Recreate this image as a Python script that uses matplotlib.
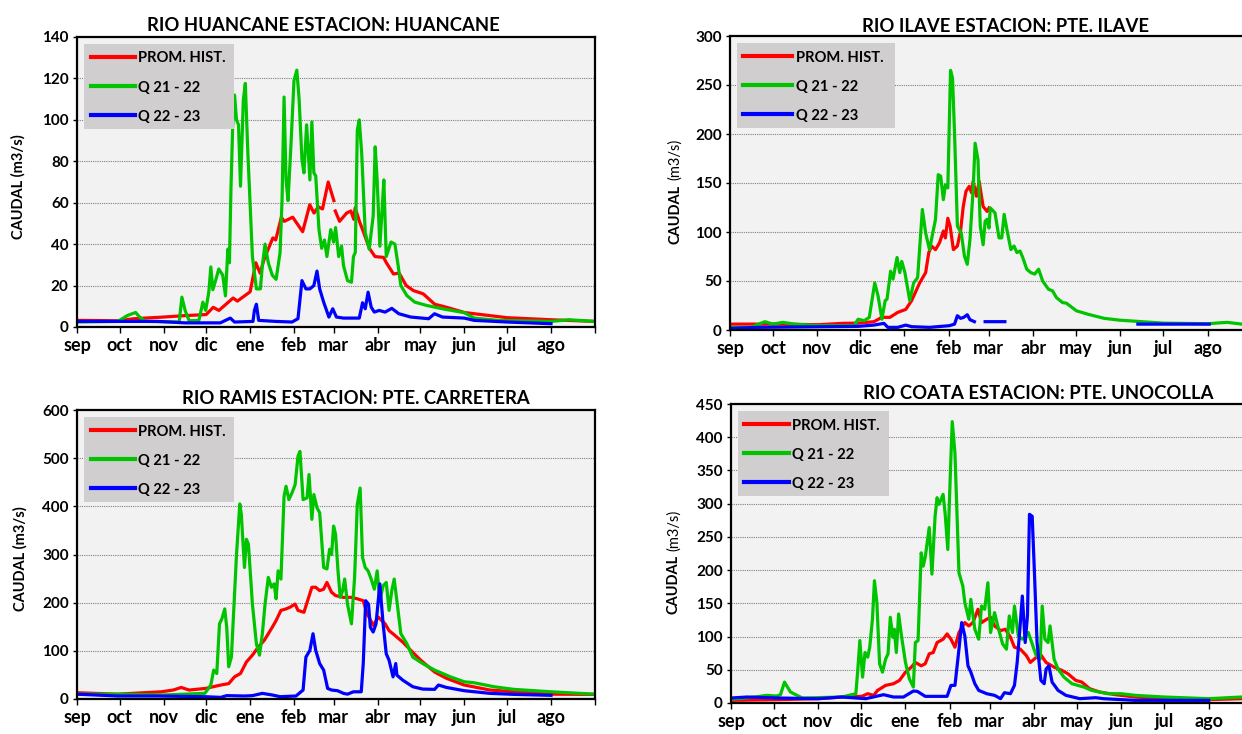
import numpy as np
import matplotlib
matplotlib.use("Agg")
import matplotlib.pyplot as plt
from matplotlib.lines import Line2D
from matplotlib.patches import Rectangle

nan = np.nan

# ---------------- data (day 0 = 1 sep) ----------------
months = ['sep', 'oct', 'nov', 'dic', 'ene', 'feb', 'mar', 'abr', 'may', 'jun', 'jul', 'ago']
month_len = [30, 31, 30, 31, 31, 28, 31, 30, 31, 30, 31, 31]
series_names = ['PROM. HIST.', 'Q 21 - 22', 'Q 22 - 23']

# RIO HUANCANE
hu_prom = [(0,3.2),(29,3),(40,4),(61,4.8),(76,5.5),(91,6),(96,9.5),(100,8),(110,14),(113,12.5),(122,17),(126,31),(129,26),(132,33),(138,43),(140,42),(144,53),(146,51),(152,53),(159,46),(164,59),(167,55),(170,58),(173,57),(177,70),(181,61),(181.5,nan),(182,56),(185,51),(190,55),(193,56),(195,52),(196,57.5),(199,51),(202,45.6),(206,38),(210,34),(216,33.6),(218,31),(223,25.6),(227,26),(232,20),(237,17.6),(244,16),(252,11),(260,9.6),(273,7),(280,6.4),(303,4.5),(334,3.5),(365,2.7)]
hu_q21 = [(0,2.4),(28.7,2.7),(35.7,5.6),(41.3,7),(44.1,4.8),(48.3,2.7),(72.0,2.4),(73.9,14.4),(76.2,8),(79.0,3),(85.9,3.2),(88.7,12),(90.7,8),(92.9,17),(94.3,29),(95.7,18),(97.9,23),(99.9,28),(102.7,25),(104.6,15),(106.3,37.6),(107.4,31),(108.5,67),(109.7,97),(111.0,112),(112.4,100),(113.8,97.6),(115.2,68),(117.2,109.6),(118.6,117.6),(120.3,85.6),(123.6,34),(126.4,18.4),(129.2,18.4),(130.6,29.6),(132.5,40),(134.8,31),(137.6,25),(140.3,23),(143.1,36),(144.5,61.6),(145.9,111),(147.3,71),(148.7,61),(150.7,87),(152.9,119),(154.9,124),(156.5,110),(158.5,81),(159.9,74.4),(161.8,97.6),(164.1,71),(165.5,99),(166.9,74.4),(168.2,73),(170.5,47),(172.4,38),(174.4,42),(176.1,34),(178.8,47),(180.8,41),(182.2,48),(184.4,34),(186.4,39),(187.8,29.6),(190.6,22.4),(193.4,21.6),(194.8,34),(196.1,36),(197.5,95),(198.9,100),(200.6,84),(203.1,45.6),(205.9,37.6),(208.7,53.6),(210.1,87),(211.5,71),(213.4,39),(215.1,58),(216.2,71),(217.9,34),(221.3,41),(224.0,40),(226.3,29.6),(228.2,20),(232.4,15.2),(238.0,12),(246.4,10.4),(257.5,8.8),(272.9,6.9),(279.9,4.3),(296.6,3.2),(334.0,2.7),(346.8,3.5),(365.0,2.7)]
hu_q22 = [(0,2.7),(57,2.7),(76,2),(101,2),(108,4.3),(111,2.4),(124,2.7),(125,8),(126.4,11),(128,3.2),(140,2.7),(151.5,2.4),(155.7,4),(158.5,22.4),(161.3,18.4),(164.1,18.4),(166.9,20),(169.1,27),(171,18.4),(173.8,12),(177.5,4.8),(180.2,8.8),(182.8,4.8),(187.8,4.3),(198.9,4.3),(201.2,11.7),(203.1,8.8),(205.1,16.8),(207.3,9.6),(209.5,7.2),(212.9,8),(217.1,7.2),(221.8,9),(226.8,6.4),(235.2,4.8),(247.8,4),(251.9,6.4),(257.5,4.8),(272.9,4.3),(279.9,3.2),(303,2.4),(334,1.6)]

# RIO ILAVE
il_prom = [(0,6),(34,6),(62,5.4),(78.5,6.8),(89.6,7),(100.7,8.5),(106.2,12.9),(111.8,12.9),(117.3,18),(122.9,21),(127,30),(132.6,48),(136.8,58.6),(139,79),(140.9,85.7),(143.7,82),(146.5,89),(149.2,101),(150.6,94),(152.3,114),(153.9,106),(156.2,82),(159,85.7),(161.2,101),(163.1,126),(165,141.5),(167.3,146.6),(168.9,140),(170,151.7),(172.3,136.5),(174.2,151.7),(177,126),(179.8,121),(181.1,124.6)]
il_q21 = [(0,2.7),(14.7,2.7),(20.2,6),(24.4,8.5),(30,6),(36.9,7.8),(45.2,6),(61.9,4.4),(86.8,4.4),(89.6,11),(93.8,9.5),(97.4,12.9),(101.2,48),(103.5,35),(106.2,11),(108.5,30),(109.8,31.5),(112.3,60),(114,52),(116.8,74),(118.7,58.6),(120.1,70),(122.3,58.6),(125.7,30),(128.4,48),(131.2,53.5),(134.5,123),(136.8,99),(139.5,82),(143.7,113),(145.6,158.5),(147.3,157),(149.2,133),(150.6,148),(152.3,145),(154.2,265),(155.6,257),(157,201),(159,106),(161.7,99),(163.9,75.5),(165.9,67),(167.8,92.4),(170,143),(171.4,190.6),(173.4,173.7),(175,106),(177,87),(178.4,111),(179.8,113),(181.1,104),(182,124.6),(185.3,119.5),(188.1,94),(190,94),(191.7,118),(193.6,102.6),(196.4,82),(198.6,85.7),(200.6,79),(202.8,80.6),(204.7,74),(207.5,62),(210.3,58.6),(213,57),(215.8,62),(218.6,50),(222.7,41.6),(225.5,40),(228.3,33),(232.5,28),(235.2,27.4),(242.2,19.6),(250.5,16),(261.6,11.9),(272.7,10),(303.2,7),(334,6.4),(347.6,7.8),(358.1,6),(365,6)]
il_q22 = [(0,1.7),(20.2,2.7),(89.6,3.7),(100.7,5),(107.6,6.8),(110.4,2.7),(117.3,2.7),(122.9,5),(127,3.4),(139.5,2.7),(153.4,4.4),(157,6),(159,14.6),(161.2,11.9),(163.4,12.9),(165.9,15.6),(167.8,10.5),(170.9,8.5),(174.5,nan),(178.4,8.5),(192.2,8.5),(240,nan),(285.2,6),(335.1,6)]

# RIO RAMIS
ra_prom = [(0,13),(28.7,10),(59.4,15),(67.8,18.6),(73.4,24),(79,18.6),(90.7,22),(101.3,29),(106.9,32),(111,46),(115.2,53),(119.4,77),(123.6,91),(127.8,108),(132,122),(137.6,149),(140.3,163),(143.7,184),(147.3,187),(150.1,190.6),(153.7,197),(155.7,184),(159.9,180),(165.5,232),(168.2,232),(171,225),(173.8,228),(176.1,242),(179.4,221.5),(182.2,214.7),(187.8,211),(193.4,211),(197.5,208),(201.7,204),(204.5,177),(208.7,153),(212.3,170),(217.1,156),(219.9,142),(224,132),(229.6,118),(235.2,101),(242.2,80.5),(252,56),(260.3,43),(272.9,29),(291,18.6),(307.8,15),(334,10),(365,9.6)]
ra_q21 = [(0,10),(28.7,10),(60.5,8.3),(90.1,11.7),(94.3,29),(96.3,60),(98.5,53),(100.4,156),(102.1,166.5),(104.1,187),(105.5,149),(106.9,67),(108.8,87),(112.4,300),(114.7,405),(115.8,383),(118,273),(119.4,331.6),(120.8,321),(123.6,197),(126.4,115),(128.6,91),(130.6,135.5),(132.5,197),(134.8,252.5),(137,232),(138.9,239),(140.3,208),(141.7,266),(143.7,249),(145.9,421),(147.3,441.7),(149.3,414),(151.5,428),(153.7,445),(155.7,503.6),(157.1,514),(159.3,414),(162.1,417.6),(163.5,466),(165.5,373),(166.9,424.5),(169.1,397),(171,386.7),(173.8,273),(176.1,270),(178,311),(179.4,300),(180.8,359),(182.2,342),(183.9,266),(185.5,211),(187.2,225),(188.6,249),(190.6,197),(193.4,156),(195.6,252.5),(197.5,404),(199.5,438),(201.2,294),(203.1,273),(205.1,266),(207.3,249),(209.5,228),(211.5,266),(213.4,204),(215.7,235),(217.9,242),(219.9,184),(221.8,225),(223.5,249),(225.4,204),(228.2,135.5),(232.4,115),(236.6,87),(243.6,73.6),(252,60),(263.1,46),(272.9,35.8),(279.9,33.7),(293.8,25.5),(307.8,20),(334,15),(365,10)]
ra_q22 = [(0,10),(28.7,6.2),(56.6,6.2),(90.1,4.8),(101.3,3.4),(105.5,7),(118,6.2),(123.6,7),(130.6,11.7),(137.6,8.3),(143.1,4.8),(154.3,6.2),(159.3,18.6),(161.3,87),(164.1,101),(166.3,135.5),(168.2,101),(171,73.6),(173.8,60),(176.6,22),(179.4,18.6),(183.6,17.2),(187.8,11.7),(190.6,10),(194.8,15),(200.3,15),(201.7,73.6),(203.4,204),(205.4,197),(206.7,149),(208.7,139),(210.7,156),(213.4,239),(215.7,156),(217.9,94),(219.9,80.5),(222.7,46),(224.6,73.6),(225.4,49.5),(229.6,39),(236.6,25.5),(243.6,20.6),(252,20),(254.7,29),(260.3,24),(272.9,17.2),(291,11.7),(307.8,9.6),(334,7.6)]

# RIO COATA
co_prom = [(0,4),(33.3,5),(61,6.5),(77.6,9),(91.5,10),(95.6,14),(99.8,11.5),(102.5,19),(108.1,26.5),(113.6,29),(117.8,34),(122,46.4),(126.1,54),(128.9,61),(133,56),(135.8,59),(138.6,74),(141.4,76),(144.1,91),(148.3,96),(151.1,104),(153.8,96),(156.6,84),(159.4,106),(163.5,121),(166.3,116),(169.1,121),(172.7,141),(175.2,121),(178.8,126),(181.5,129),(184.3,116),(188.5,109),(191.8,111),(195.4,99),(198.2,84),(202.3,81),(206.5,71.4),(209.3,61),(212,66),(216.2,74),(220.3,61),(225.9,54),(231.4,49),(235.6,44),(241.1,34),(245.3,31.5),(250.8,21.5),(257.8,16.5),(268.8,12.5),(282.7,9),(302.9,6.5),(334,5),(357,6.5),(365,6)]
co_q21 = [(0,5.5),(16.6,9),(24.9,11.5),(31.9,10.5),(34.6,12.5),(37.4,31.5),(41.6,16.5),(49.9,7.5),(77.6,9),(87.3,14),(88.7,51),(90.1,94),(92,39),(93.7,76),(95.6,69),(97,84),(98.9,126),(100.3,184),(102,151),(103.9,59),(105.9,46.4),(108.1,66),(109.8,74),(111.4,129),(113.1,99),(114.2,111),(115.6,76),(117.2,134),(119.2,101),(122,61),(124.7,36.5),(127.5,24),(128.9,91),(130.8,94),(133,226),(134.4,206),(135.8,219),(138.6,264),(140.5,194),(142.7,281),(144.1,309),(145.5,299),(148.3,314),(149.7,286),(151.6,231),(153.3,341),(154.7,423.5),(156.6,376),(159.4,196),(162.1,176),(163.5,151),(166.3,126),(167.7,156),(170.5,111),(173.2,96),(175.2,146),(177.4,141),(179.6,181),(181.5,106),(184.3,136),(186.5,116),(189.9,89),(192.6,81),(194.6,131),(196.8,106),(198.2,146),(200.9,101),(203.7,96),(207.9,106),(210.6,89),(213.4,71.4),(216.2,66),(217.6,146),(219.5,96),(221.7,91),(223.1,116),(225.9,66),(228.7,51),(232.8,39),(238.4,29),(246.7,24),(252.2,19),(263.3,14),(273,14),(282.7,11.5),(302.9,9),(334,6.5),(357,9),(365,8)]
co_q22 = [(0,7.5),(11.1,9),(33.3,7.5),(61,6.5),(77.6,9),(94.2,6.5),(106.7,12.5),(113.6,9),(120.6,9),(127.5,18),(130.3,17.5),(135.8,10),(144.1,10),(151.1,10),(153.8,26.5),(156.6,26.5),(159.4,81),(161.3,121),(163.5,101),(165.7,56),(167.7,46.4),(170.5,29),(173.2,19),(178.8,14),(184.3,11.5),(188.5,6.5),(191.2,15.5),(195.4,14),(198.2,26.5),(200.1,61),(201.8,106),(203.7,161),(205.7,91),(207.3,131),(208.7,284),(210.6,281),(212,206),(214,91),(216.7,34),(219,29),(220.3,51),(222.3,56),(224.5,31.5),(228.7,19),(234.2,11.5),(243.9,6.5),(255,8),(260.5,6.5),(282.7,4),(334,4)]

titles = ['RIO HUANCANE ESTACION: HUANCANE', 'RIO ILAVE ESTACION: PTE. ILAVE',
          'RIO RAMIS ESTACION: PTE. CARRETERA', 'RIO COATA ESTACION: PTE. UNOCOLLA']
ymax = [140, 300, 600, 450]
ystep = [20, 50, 100, 50]

# ---------------- style ----------------
FONT = ['Lato', 'DejaVu Sans']
plt.rcParams['font.family'] = FONT
colors = ['#ff0000', '#00c400', '#0000ff']
W, H = 1242, 734

fig = plt.figure(figsize=(W / 100, H / 100), dpi=100)

# axes rectangles in pixels: left, top, right, bottom
rects = [(77, 37, 595, 327), (730, 36, 1252, 330), (77, 410, 595, 699), (731, 404, 1253, 703)]
legend_w = [150, 158, 150, 151]
panels = [(hu_prom, hu_q21, hu_q22), (il_prom, il_q21, il_q22),
          (ra_prom, ra_q21, ra_q22), (co_prom, co_q21, co_q22)]
title_pos = [(323, 31), (1006, 32), (356, 404), (1038, 399)]

month_ticks = np.concatenate([[0], np.cumsum(month_len)])

for i, (rect, series) in enumerate(zip(rects, panels)):
    l, t, r, b = rect
    aw, ah = r - l, b - t
    ax = fig.add_axes([l / W, 1 - b / H, aw / W, ah / H])
    ax.set_facecolor('#f2f2f2')
    for s, c in zip(series, colors):
        d = np.array(s, dtype=float)
        ax.plot(d[:, 0], d[:, 1], color=c, lw=2.3, solid_joinstyle='round')
    ax.set_xlim(0, 365)
    ax.set_ylim(0, ymax[i])
    yt = np.arange(0, ymax[i] + 1, ystep[i])
    ax.set_yticks(yt)
    for y in yt[1:-1]:
        ax.axhline(y, color='#7f7f7f', lw=0.8, ls=(0, (1, 1)), zorder=0.5)
    ax.set_xticks(month_ticks)
    ax.set_xticklabels(months + [''])
    ax.tick_params(axis='x', direction='out', length=4, width=1, labelsize=13, pad=3)
    ax.tick_params(axis='y', direction='out', length=3, width=1, labelsize=11, pad=3)
    for lab in ax.get_xticklabels() + ax.get_yticklabels():
        lab.set_fontweight('bold')
    for sp in ax.spines.values():
        sp.set_linewidth(1.6)
        sp.set_color('black')

    # legend background box (7..7+w px from left, 7..92 px from top)
    lw_px = legend_w[i]
    ax.add_patch(Rectangle((7 / aw, 1 - 92 / ah), lw_px / aw, 85 / ah,
                           transform=ax.transAxes, facecolor='#d0cece',
                           edgecolor='none', zorder=4.5, clip_on=False))
    handles = [Line2D([], [], color=c, lw=3) for c in colors]
    hl = 3.0 if i != 1 else 3.3
    leg = ax.legend(handles, series_names, loc='upper left',
                    bbox_to_anchor=(13.5 / aw, 1 - 14.5 / ah), borderaxespad=0,
                    frameon=False, handlelength=hl, handletextpad=0.25,
                    labelspacing=1.02, borderpad=0,
                    prop={'weight': 'bold', 'size': 10.6, 'family': FONT})
    leg.set_zorder(5)

    tx, ty = title_pos[i]
    fig.text(tx / W, 1 - ty / H, titles[i], ha='center', va='baseline',
             fontsize=13.3, fontweight='bold')

# y labels
fig.text(18 / W, 1 - 187 / H, 'CAUDAL (m3/s)', rotation=90, ha='center', va='center',
         fontsize=10.5, fontweight='bold')
fig.text(20 / W, 1 - 559 / H, 'CAUDAL (m3/s)', rotation=90, ha='center', va='center',
         fontsize=10.5, fontweight='bold')
for xc, ysplit in [(675, 182.5), (674, 553)]:
    fig.text(xc / W, 1 - (ysplit + 2) / H, 'CAUDAL', rotation=90, ha='center', va='top',
             fontsize=10.5, fontweight='bold')
    fig.text(xc / W, 1 - (ysplit - 2) / H, '(m3/s)', rotation=90, ha='center', va='bottom',
             fontsize=10.5, fontweight='normal')

fig.savefig('out.png', dpi=100)
